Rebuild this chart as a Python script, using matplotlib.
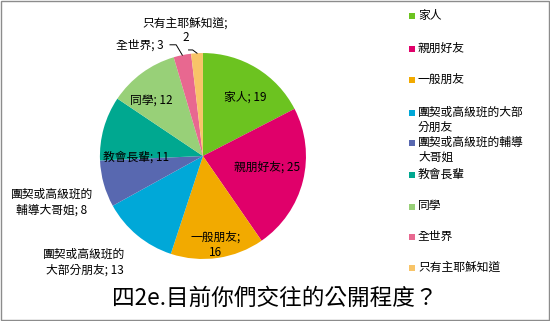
import matplotlib
matplotlib.use('Agg')
import matplotlib.pyplot as plt
import numpy as np

plt.rcParams['font.family'] = ['Noto Sans CJK TC', 'DejaVu Sans']

categories = ['家人', '親朋好友', '一般朋友', '團契或高級班的大部分朋友', '團契或高級班的輔導大哥姐',
              '教會長輩', '同學', '全世界', '只有主耶穌知道']
values = [19, 25, 16, 13, 8, 11, 12, 3, 2]
legend_labels = ['家人', '親朋好友', '一般朋友', '團契或高級班的大部\n分朋友', '團契或高級班的輔導\n大哥姐',
                 '教會長輩', '同學', '全世界', '只有主耶穌知道']
slice_labels = ['家人; 19', '親朋好友; 25', '一般朋友;\n16', '團契或高級班的\n大部分朋友; 13',
                '團契或高級班的\n輔導大哥姐; 8', '教會長輩; 11', '同學; 12', '全世界; 3', '只有主耶穌知道;\n2']
colors = ['#6cc320', '#e0006a', '#f2aa00', '#00a8d8', '#5868b0', '#00a890', '#98d078', '#e86890', '#f8c468']

# label positions (pie radius = 1)
label_pos = [(0.41, 0.57), (0.62, -0.11), (0.12, -0.86), (-1.15, -1.03), (-1.47, -0.45),
             (-0.65, -0.01), (-0.50, 0.54), (-0.61, 1.08), (-0.17, 1.22)]
# legend rows, pixel y of first line from the top
legend_y = [16, 49, 80, 113, 143, 175, 207, 237, 268]

W, H = 550, 321
fig = plt.figure(figsize=(5.5, 3.21), dpi=100)
ax = fig.add_axes([0, 0.028, 0.738, 0.972])
wedges, _ = ax.pie(values, colors=colors, startangle=90, counterclock=False,
                   wedgeprops=dict(linewidth=0))
ax.set_xlim(-1.97, 1.97)
ax.set_ylim(-1.515, 1.515)
ax.set_aspect('auto')
ax.axis('off')

for i, w in enumerate(wedges):
    x, y = label_pos[i]
    if i == 8:
        # two separate lines so the first line does not cover the neighbour label
        line1, line2 = slice_labels[i].split('\n')
        ax.text(x, y + 0.072, line1, ha='center', va='center', fontsize=8.5)
        ax.text(x, y - 0.072, line2, ha='center', va='center', fontsize=8.5)
    else:
        ax.text(x, y, slice_labels[i], ha='center', va='center', fontsize=8.5, linespacing=1.25)
    if i >= 7:
        mid = np.deg2rad((w.theta1 + w.theta2) / 2)
        ex, ey = np.cos(mid), np.sin(mid)
        if i == 7:
            sx, sy, mx = -0.32, 1.08, -0.26
        else:
            sx, sy, mx = -0.14, 1.03, -0.10
        ax.plot([sx, mx, ex], [sy, sy, ey], color='black', lw=0.7)

# legend
for i, lab in enumerate(legend_labels):
    yf = 1 - legend_y[i] / H
    fig.patches.append(plt.Rectangle((409 / W, yf - 2.8 / H), 6 / W, 6 / H, transform=fig.transFigure,
                                     facecolor=colors[i], edgecolor='none'))
    fig.text(418 / W, yf + 7.5 / H, lab, ha='left', va='top', fontsize=8.5, linespacing=1.2)

fig.text(0.5, 0.072, '四2e.目前你們交往的公開程度？', ha='center', va='center', fontsize=16.3)

fig.patches.append(plt.Rectangle((0.002, 0.003), 0.996, 0.994, transform=fig.transFigure,
                                 fill=False, edgecolor='#8c8c8c', lw=1))

fig.savefig('out.png', dpi=100)
